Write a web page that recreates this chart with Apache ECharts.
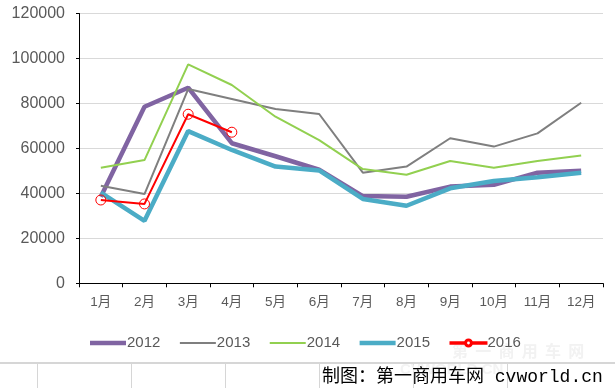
<!DOCTYPE html>
<html>
<head>
<meta charset="utf-8">
<script src="https://cdn.jsdelivr.net/npm/echarts@6/dist/echarts.min.js"></script>
<style>html,body{margin:0;padding:0;background:#fff}#c{width:615px;height:388px}</style>
</head>
<body>
<div id="c"></div>
<script>
var categories = ['1月','2月','3月','4月','5月','6月','7月','8月','9月','10月','11月','12月'];
var s2012 = [38500, 78500, 87000, 62300, 56500, 50500, 38800, 38500, 43000, 43800, 49200, 50100];
var s2013 = [43400, 39700, 86400, 82000, 77500, 75300, 49200, 51900, 64500, 60800, 66700, 80300];
var s2014 = [51400, 54800, 97400, 88200, 74100, 63700, 50800, 48300, 54400, 51400, 54400, 56800];
var s2015 = [40300, 27800, 67700, 59300, 51900, 50200, 37500, 34500, 42250, 45500, 47150, 49200];
var s2016 = [37050, 35300, 75200, 67200];
var seriesNames = ['2012','2013','2014','2015','2016'];
var footerText = '制图：第一商用车网 cvworld.cn';

var chart = echarts.init(document.getElementById('c'), null, {renderer:'canvas'});
var font = 'Liberation Sans, Arial, Noto Sans CJK SC, sans-serif';
function line(name, data, color, width, extra) {
  var o = {
    name: name, type: 'line', data: data,
    symbol: 'none', smooth: false,
    lineStyle: {color: color, width: width},
    itemStyle: {color: color},
    emphasis: {disabled: true},
    animation: false
  };
  if (extra) for (var k in extra) o[k] = extra[k];
  return o;
}
// legend icons: bounding box 36x14 forced via move-to points
function barIcon(h) {
  var y0 = 7 - h / 2, y1 = 7 + h / 2;
  return 'path://M0,0 M36,14 M0,' + y0 + ' L36,' + y0 + ' L36,' + y1 + ' L0,' + y1 + ' Z';
}
var ringIcon = 'path://M0,0 M36,14 M0,6.2 L14.5,6.2 L14.5,7.8 L0,7.8 Z M21.5,6.2 L36,6.2 L36,7.8 L21.5,7.8 Z ' +
  'M14.5,7 A3.5,3.5 0 1,0 21.5,7 A3.5,3.5 0 1,0 14.5,7 Z M15.6,7 A2.4,2.4 0 1,1 20.4,7 A2.4,2.4 0 1,1 15.6,7 Z';

var vLines = [37, 131, 225, 319, 413, 507];
var graphics = [
  {type:'rect', shape:{x:0, y:362, width:615, height:2}, style:{fill:'#d6d6d6'}, silent:true}
];
vLines.forEach(function(x){
  graphics.push({type:'rect', shape:{x:x, y:362, width:1, height:26}, style:{fill:'#d6d6d6'}, silent:true});
});
graphics.push({type:'text', x:452, y:343, style:{text:'第  一  商  用  车  网', fill:'#f2f2f2', font:'bold 16px Noto Sans CJK SC'}, silent:true});
graphics.push({type:'text', x:400, y:362, style:{text:'CVWORLD.CN', fill:'#f3f3f3', font:'bold 15px Liberation Sans'}, silent:true});
graphics.push({type:'text', x:322, y:368, style:{text:footerText, fill:'#000000', font:'18px Liberation Mono, Noto Sans CJK SC'}, silent:true});

chart.setOption({
  backgroundColor: '#ffffff',
  animation: false,
  grid: {left: 79, right: 12, top: 13.5, bottom: 104.7, containLabel: false},
  legend: {
    data: [
      {name: '2012', icon: barIcon(4.5)},
      {name: '2013', icon: barIcon(2)},
      {name: '2014', icon: barIcon(2)},
      {name: '2015', icon: barIcon(4.5)},
      {name: '2016', icon: ringIcon}
    ],
    left: 85, top: 330,
    itemWidth: 36, itemHeight: 14, itemGap: 19.5,
    textStyle: {color: '#595959', fontSize: 15, fontFamily: font, padding: [0,0,0,-4]}
  },
  xAxis: {
    type: 'category', data: categories, boundaryGap: true,
    axisLine: {lineStyle: {color: '#000000', width: 1}},
    axisTick: {show: true, length: 4, lineStyle: {color: '#000000'}},
    axisLabel: {color: '#595959', fontSize: 13.5, fontFamily: font, margin: 12},
    splitLine: {show: false}
  },
  yAxis: {
    type: 'value', min: 0, max: 120000, interval: 20000,
    axisLine: {show: true, lineStyle: {color: '#000000', width: 1}},
    axisTick: {show: true, length: 3, lineStyle: {color: '#000000'}},
    axisLabel: {color: '#595959', fontSize: 16, fontFamily: font, margin: 14,
      formatter: function(v){ return String(v); }},
    splitLine: {show: true, lineStyle: {color: '#d9d9d9', width: 1}}
  },
  graphic: graphics,
  series: [
    line('2012', s2012, '#8064A2', 4.5),
    line('2013', s2013, '#7f7f7f', 2),
    line('2014', s2014, '#92D050', 2),
    line('2015', s2015, '#4BACC6', 4.5),
    line('2016', s2016, '#FF0000', 2, {symbol: 'circle', symbolSize: 10, showSymbol: true, itemStyle: {color: 'rgba(255,0,0,0)', borderColor: '#FF0000', borderWidth: 1}})
  ]
});
</script>
</body>
</html>
